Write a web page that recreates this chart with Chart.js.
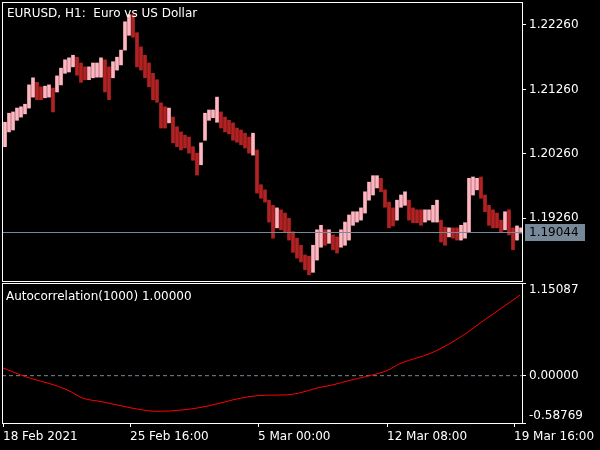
<!DOCTYPE html>
<html lang="en">
<head>
<meta charset="UTF-8">
<title>EURUSD H1 Autocorrelation</title>
<script src="https://cdn.jsdelivr.net/npm/chart.js@4.4.0/dist/chart.umd.min.js"></script>
<style>
  html, body { margin: 0; padding: 0; background: #000; }
  #wrap { position: relative; width: 600px; height: 450px; background: #000; overflow: hidden; }
  #c1 { position: absolute; left: 0; top: 0; }
  #c2 { position: absolute; left: 0; top: 283px; }
  .lbl { position: absolute; color: #fff; font: 12px "DejaVu Sans", sans-serif; white-space: pre; }
</style>
</head>
<body>
<div id="wrap">
  <canvas id="c1" width="600" height="283"></canvas>
  <canvas id="c2" width="600" height="167"></canvas>
  <div class="lbl" style="left:7px;top:6px">EURUSD, H1:  Euro vs US Dollar</div>
  <div class="lbl" style="left:6px;top:289px">Autocorrelation(1000) 1.00000</div>
</div>

<script>
// 4-hour groups (high / low of each group)
var highs = [1.2075,1.2089,1.2091,1.2097,1.2099,1.2103,1.2133,1.2144,1.2137,1.2130,
  1.2131,1.2133,1.2128,1.2147,1.2159,1.2172,1.2175,1.2179,1.2176,1.2167,
  1.2161,1.2161,1.2167,1.2167,1.2175,1.2172,1.2161,1.2169,1.2176,1.2187,
  1.2231,1.2242,1.2242,1.2214,1.2192,1.2179,1.2167,1.2151,1.2141,1.2105,
  1.2099,1.2097,1.2083,1.2068,1.2060,1.2055,1.2052,1.2037,1.2027,1.2043,
  1.2089,1.2094,1.2094,1.2114,1.2091,1.2083,1.2078,1.2074,1.2066,1.2063,
  1.2058,1.2052,1.2058,1.2032,1.1978,1.1970,1.1954,1.1946,1.1942,1.1939,
  1.1934,1.1926,1.1905,1.1895,1.1884,1.1869,1.1867,1.1884,1.1908,1.1915,
  1.1908,1.1908,1.1900,1.1897,1.1908,1.1920,1.1931,1.1936,1.1936,1.1942,
  1.1967,1.1982,1.1992,1.1992,1.1988,1.1970,1.1951,1.1942,1.1954,1.1962,
  1.1967,1.1954,1.1942,1.1939,1.1939,1.1939,1.1939,1.1946,1.1954,1.1923,
  1.1912,1.1911,1.1911,1.1911,1.1915,1.1919,1.1988,1.1990,1.1988,1.1990,
  1.1962,1.1946,1.1939,1.1934,1.1923,1.1936,1.1939,1.1911,1.1914,1.1911];
var lows = [1.2037,1.2060,1.2063,1.2078,1.2083,1.2088,1.2097,1.2114,1.2110,1.2110,
  1.2113,1.2114,1.2091,1.2122,1.2133,1.2151,1.2153,1.2161,1.2148,1.2137,
  1.2141,1.2141,1.2144,1.2145,1.2145,1.2122,1.2110,1.2144,1.2156,1.2164,
  1.2187,1.2210,1.2207,1.2161,1.2156,1.2144,1.2130,1.2110,1.2106,1.2066,
  1.2066,1.2074,1.2043,1.2037,1.2032,1.2035,1.2027,1.2016,1.1993,1.2009,
  1.2047,1.2078,1.2082,1.2075,1.2066,1.2060,1.2057,1.2047,1.2044,1.2040,
  1.2035,1.2027,1.2024,1.1965,1.1957,1.1951,1.1920,1.1895,1.1911,1.1908,
  1.1905,1.1892,1.1873,1.1864,1.1858,1.1846,1.1838,1.1842,1.1861,1.1881,
  1.1884,1.1887,1.1877,1.1872,1.1881,1.1884,1.1892,1.1915,1.1920,1.1923,
  1.1934,1.1954,1.1962,1.1973,1.1967,1.1943,1.1911,1.1914,1.1923,1.1943,
  1.1946,1.1923,1.1919,1.1919,1.1915,1.1920,1.1923,1.1920,1.1920,1.1889,
  1.1884,1.1897,1.1895,1.1892,1.1892,1.1895,1.1905,1.1962,1.1970,1.1957,
  1.1936,1.1915,1.1911,1.1911,1.1905,1.1908,1.1900,1.1877,1.1892,1.1903];
var barHours = 4;          // hours per drawn bar
var bidPrice = 1.19044;
var priceMin = 1.18285, priceMax = 1.22617;
var priceTicks = [1.19260, 1.20260, 1.21260, 1.22260];

// autocorrelation line (hour index, value)
var acHours = [0,17,30,47,64,80,97,114,130,147,157,180,197,214,230,247,264,284,297,314,
  330,347,364,384,397,414,427,447,464,480,497,517];
var acValues = [0.096,0.0125,-0.042,-0.10,-0.175,-0.28,-0.32,-0.363,-0.405,-0.438,
  -0.442,-0.425,-0.396,-0.35,-0.30,-0.259,-0.242,-0.238,-0.213,-0.154,
  -0.113,-0.058,-0.008,0.063,0.15,0.221,0.275,0.40,0.534,0.68,0.826,1.0];
var acMin = -0.58769, acMax = 1.15087;
var acTicks = [-0.58769, 0, 1.15087];

var timeTicks = [0, 127, 255, 384, 511];
var timeLabels = ['18 Feb 2021', '25 Feb 16:00', '5 Mar 00:00', '12 Mar 08:00', '19 Mar 16:00'];
var xMin = -1, xMax = 519;

var bull = '#ffb6c1', bear = '#b22222';
var font = { family: 'DejaVu Sans', size: 12 };

var colors = highs.map(function (h, i) {
  var m = (h + lows[i]) / 2;
  var pm = i ? (highs[i - 1] + lows[i - 1]) / 2 : m;
  return m >= pm ? bull : bear;
});

function fixY(s) { s.width = 78; s.paddingTop = 0; s.paddingBottom = 0; }

var frame = {
  id: 'frame',
  afterDraw: function (chart) {
    var a = chart.chartArea, ctx = chart.ctx;
    ctx.save();
    ctx.strokeStyle = '#fff';
    ctx.lineWidth = 1;
    ctx.strokeRect(a.left + 0.5, a.top + 0.5, a.right - a.left, a.bottom - a.top);
    ctx.restore();
  }
};

var bidLine = {
  id: 'bidLine',
  afterDatasetsDraw: function (chart) {
    var a = chart.chartArea, ctx = chart.ctx;
    var y = Math.round(chart.scales.y.getPixelForValue(bidPrice)) + 0.5;
    ctx.save();
    ctx.strokeStyle = '#778899';
    ctx.lineWidth = 1;
    ctx.beginPath();
    ctx.moveTo(a.left, y);
    ctx.lineTo(a.right, y);
    ctx.stroke();
    ctx.fillStyle = '#778899';
    ctx.fillRect(a.right + 3, y - 8.5, 60, 17);
    ctx.fillStyle = '#000';
    ctx.font = '12px "DejaVu Sans"';
    ctx.textBaseline = 'middle';
    ctx.fillText(bidPrice.toFixed(5), a.right + 7, y + 0.5);
    ctx.restore();
  }
};

new Chart(document.getElementById('c1'), {
  type: 'bar',
  data: {
    datasets: [{
      data: highs.map(function (h, i) { return { x: i * barHours + 2, y: [lows[i], h] }; }),
      backgroundColor: colors,
      borderWidth: 0,
      barThickness: 3
    }]
  },
  options: {
    responsive: false,
    animation: false,
    layout: { padding: { left: 2, top: 2, right: 0, bottom: 2 } },
    plugins: { legend: { display: false }, tooltip: { enabled: false } },
    scales: {
      x: { type: 'linear', min: xMin, max: xMax, offset: false, display: false },
      y: {
        position: 'right', min: priceMin, max: priceMax,
        afterFit: fixY,
        afterBuildTicks: function (s) { s.ticks = priceTicks.map(function (v) { return { value: v }; }); },
        ticks: { color: '#fff', font: font, padding: 3, callback: function (v) { return v.toFixed(5); } },
        grid: { drawOnChartArea: false, color: '#fff', tickLength: 4 },
        border: { display: false }
      }
    }
  },
  plugins: [bidLine, frame]
});

new Chart(document.getElementById('c2'), {
  type: 'line',
  data: {
    datasets: [{
      data: acHours.map(function (h, i) { return { x: h, y: acValues[i] }; }),
      borderColor: '#ff0000',
      borderWidth: 1,
      pointRadius: 0,
      cubicInterpolationMode: 'monotone',
      order: 0
    }, {
      data: [{ x: xMin, y: 0 }, { x: xMax, y: 0 }],
      borderColor: '#778899',
      borderWidth: 1,
      borderDash: [4, 3],
      pointRadius: 0,
      order: 1
    }]
  },
  options: {
    responsive: false,
    animation: false,
    layout: { padding: { left: 2, top: 0, right: 0, bottom: 0 } },
    plugins: { legend: { display: false }, tooltip: { enabled: false } },
    scales: {
      x: {
        type: 'linear', min: xMin, max: xMax,
        afterFit: function (s) { s.height = 27; s.paddingLeft = 0; s.paddingRight = 0; },
        afterBuildTicks: function (s) { s.ticks = timeTicks.map(function (v) { return { value: v }; }); },
        ticks: { color: '#fff', font: font, align: 'start', padding: 3, maxRotation: 0, autoSkip: false,
          callback: function (v, i) { return timeLabels[i]; } },
        grid: { drawOnChartArea: false, color: '#fff', tickLength: 4 },
        border: { display: false }
      },
      y: {
        position: 'right', min: acMin, max: acMax,
        afterFit: fixY,
        afterBuildTicks: function (s) { s.ticks = acTicks.map(function (v) { return { value: v }; }); },
        ticks: { color: '#fff', font: font, padding: 3,
          callback: function (v, i) {
            var t = acTicks[i].toFixed(5);
            if (i === 0) return [t, ''];
            if (i === acTicks.length - 1) return ['', t];
            return t;
          } },
        grid: { drawOnChartArea: false, color: '#fff', tickLength: 4 },
        border: { display: false }
      }
    }
  },
  plugins: [frame]
});
</script>
</body>
</html>
